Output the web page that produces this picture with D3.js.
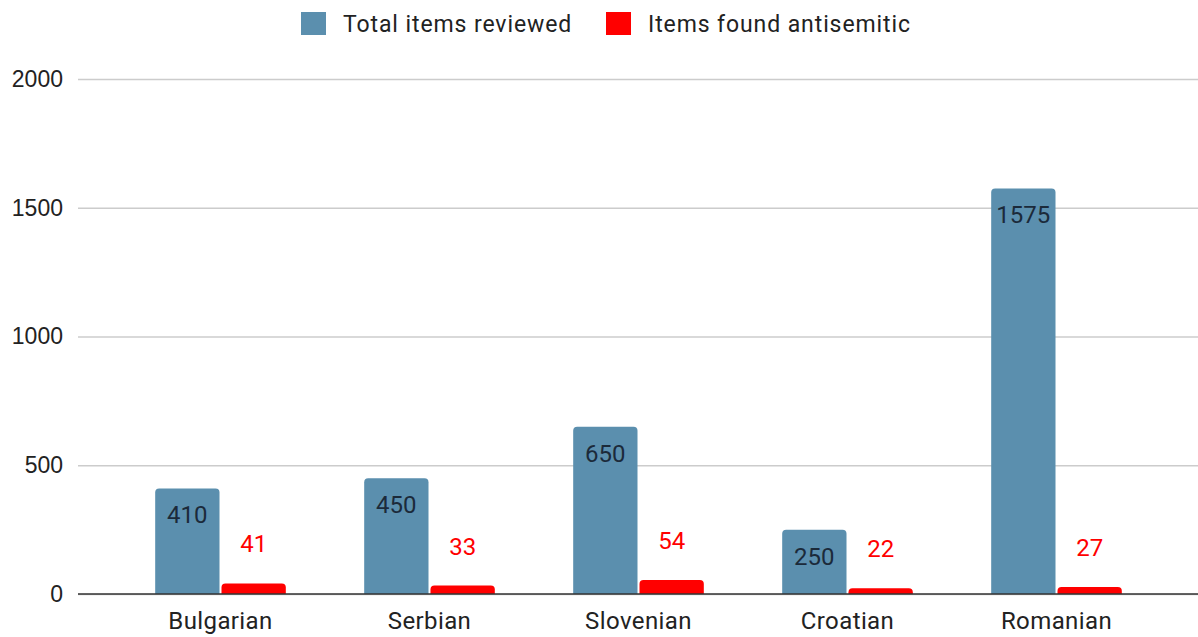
<!DOCTYPE html>
<html>
<head>
<meta charset="utf-8">
<script src="https://cdn.jsdelivr.net/npm/d3@7"></script>
<style>
  body { margin: 0; background: #fff; }
  svg { display: block; font-family: Roboto, "Noto Sans", sans-serif; }
</style>
</head>
<body>
<div id="chart"></div>
<script>
// data
var languages = ["Bulgarian", "Serbian", "Slovenian", "Croatian", "Romanian"];
var totalReviewed = [410, 450, 650, 250, 1575];
var foundAntisemitic = [41, 33, 54, 22, 27];
var seriesNames = ["Total items reviewed", "Items found antisemitic"];
var yTicks = [0, 500, 1000, 1500, 2000];

var colors = ["#5b8fae", "#ff0000"];

var W = 1198, H = 637;
var svg = d3.select("#chart").append("svg")
  .attr("width", W)
  .attr("height", H);

// scales
var y = d3.scaleLinear().domain([0, 2000]).range([594, 79]);

var x0 = d3.scaleBand()
  .domain(languages)
  .range([116, 1161])
  .paddingInner(0.375)
  .paddingOuter(0.1875);

var x1 = d3.scaleBand()
  .domain([0, 1])
  .range([0, x0.bandwidth()])
  .paddingInner(0.03);

// gridlines + y labels
var yAxis = svg.append("g")
  .attr("transform", "translate(78,0)")
  .call(d3.axisLeft(y).tickValues(yTicks).tickSize(-(W - 78)).tickPadding(15).tickFormat(d3.format("d")));
yAxis.select(".domain").remove();
yAxis.selectAll(".tick line").attr("stroke", "#cccccc").attr("stroke-width", 1.5);
yAxis.selectAll(".tick text")
  .attr("fill", "#222")
  .style("font-size", "23px");

// rounded-top bar path
function topRounded(x, yTop, w, h, r) {
  r = Math.min(r, h, w / 2);
  return "M" + x + "," + (yTop + h) +
    "V" + (yTop + r) +
    "Q" + x + "," + yTop + " " + (x + r) + "," + yTop +
    "H" + (x + w - r) +
    "Q" + (x + w) + "," + yTop + " " + (x + w) + "," + (yTop + r) +
    "V" + (yTop + h) + "Z";
}

var rows = languages.map(function(l, i) {
  return { lang: l, vals: [totalReviewed[i], foundAntisemitic[i]] };
});

var groups = svg.append("g").selectAll("g")
  .data(rows)
  .join("g")
  .attr("transform", function(d) { return "translate(" + x0(d.lang) + ",0)"; });

groups.selectAll("path")
  .data(function(d) { return d.vals.map(function(v, k) { return { k: k, v: v }; }); })
  .join("path")
  .attr("fill", function(d) { return colors[d.k]; })
  .attr("d", function(d) {
    return topRounded(x1(d.k), y(d.v), x1.bandwidth(), y(0) - y(d.v), 4);
  });

// value labels
groups.selectAll("text.val")
  .data(function(d) { return d.vals.map(function(v, k) { return { k: k, v: v }; }); })
  .join("text")
  .attr("class", "val")
  .attr("x", function(d) { return x1(d.k) + x1.bandwidth() / 2; })
  .attr("y", function(d) { return d.k === 0 ? y(d.v) + 35 : y(d.v) - 31; })
  .attr("text-anchor", "middle")
  .attr("fill", function(d) { return d.k === 0 ? "#1b2a3a" : "#ff0000"; })
  .style("font-size", "24px")
  .text(function(d) { return d.v; });

// baseline
svg.append("line")
  .attr("x1", 78).attr("x2", W)
  .attr("y1", y(0)).attr("y2", y(0))
  .attr("stroke", "#333").attr("stroke-width", 1.5);

// category labels
svg.append("g").selectAll("text")
  .data(languages)
  .join("text")
  .attr("x", function(d) { return x0(d) + x0.bandwidth() / 2; })
  .attr("y", 629)
  .attr("text-anchor", "middle")
  .attr("fill", "#222")
  .style("font-size", "24px")
  .style("letter-spacing", "0.4px")
  .text(function(d) { return d; });

// legend
var legendX = [301, 606];
var legend = svg.append("g").selectAll("g")
  .data(seriesNames)
  .join("g")
  .attr("transform", function(d, i) { return "translate(" + legendX[i] + ",12)"; });
legend.append("rect")
  .attr("width", 25).attr("height", 23)
  .attr("fill", function(d, i) { return colors[i]; });
legend.append("text")
  .attr("x", 42).attr("y", 20)
  .attr("fill", "#222")
  .style("font-size", "23px")
  .style("letter-spacing", "0.9px")
  .text(function(d) { return d; });
</script>
</body>
</html>
